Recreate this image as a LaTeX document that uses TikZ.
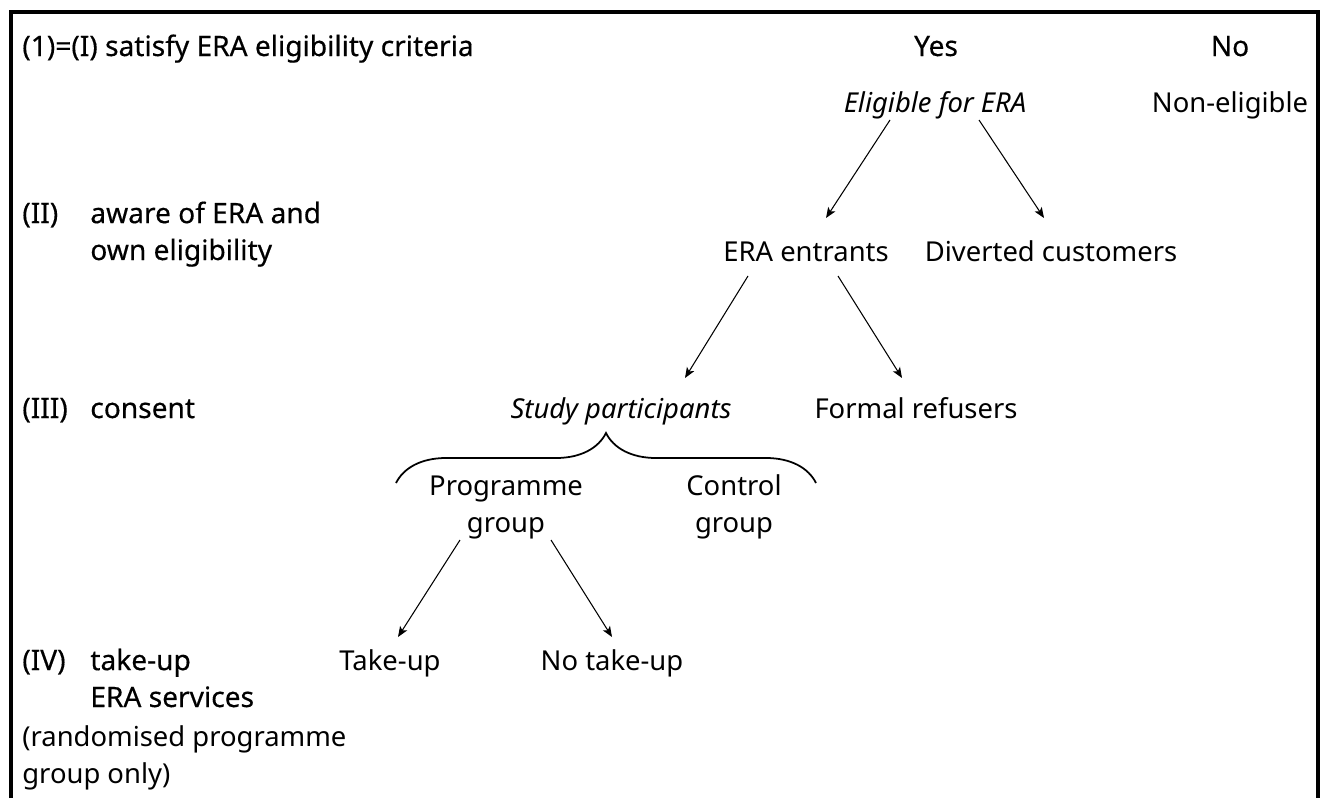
\documentclass[tikz,border=0pt]{standalone}
\usepackage{fontspec}
\setmainfont{Noto Sans}
\newfontfamily\lvlfont[FakeBold=0.4]{Noto Sans}
\usetikzlibrary{arrows.meta,decorations.pathreplacing}

\begin{document}
\begin{tikzpicture}[
    item/.style={
      inner sep=0pt,
      anchor=base,
      align=center,
      font=\fontsize{15.6}{21}\selectfont
    },
    lvl/.style={
      item,
      anchor=base west,
      align=left,
      font=\fontsize{16}{21}\selectfont\lvlfont
    },
    arr/.style={
      -{Stealth[length=6pt,width=4.8pt,inset=1.5pt]},
      line width=0.6pt
    }
  ]

  \useasboundingbox (0, 0) rectangle (26.42, -15.96);
  \draw[line width=2pt] (0.22, -15.96) -- (0.22, -0.245) -- (26.36, -0.245) -- (26.36, -15.96);

  % left column (last line of each node sits on the given baseline)
  \node[lvl] (l1) at (0.44, -1.12) {(1)=(I) satisfy ERA eligibility criteria};
  \node[lvl] (l2) at (0.44, -4.46) {(II)};
  \node[lvl] (l2t) at (1.8, -5.2) {aware of ERA and\\own eligibility};
  \node[lvl] (l3) at (0.44, -8.36) {(III)};
  \node[lvl] (l3t) at (1.8, -8.36) {consent};
  \node[lvl] (l4) at (0.44, -13.4) {(IV)};
  \node[lvl] (l4t) at (1.8, -14.14) {take-up\\ERA services};
  \node[item, anchor=base west, align=left] (note) at (0.44, -15.66) {(randomised programme\\group only)};

  \node[lvl, anchor=base] (yes) at (18.72, -1.12) {Yes};
  \node[lvl, anchor=base] (no) at (24.6, -1.12) {No};

  % tree
  \node[item] (elig) at (18.7, -2.24) {\itshape Eligible for ERA};
  \node[item] (nonelig) at (24.6, -2.24) {Non-eligible};

  \node[item] (entr) at (16.12, -5.22) {ERA entrants};
  \node[item] (divert) at (21.02, -5.22) {Diverted customers};

  \node[item] (study) at (12.42, -8.36) {\itshape Study participants};
  \node[item] (refus) at (18.32, -8.36) {Formal refusers};

  \node[item] (prog) at (10.12, -10.64) {Programme\\group};
  \node[item] (ctrl) at (14.68, -10.64) {Control\\group};

  \node[item] (take) at (7.8, -13.4) {Take-up};
  \node[item] (notake) at (12.24, -13.4) {No take-up};

  \coordinate (bl) at (7.92, -9.66);
  \coordinate (br) at (16.32, -9.66);
  \draw[line width=1pt, decorate, decoration={brace, amplitude=1cm}] (bl) -- (br);

  \draw[arr] ([xshift=-0.9cm, yshift=-0.16cm]elig.base) -- ([xshift=0.4cm, yshift=0.86cm]entr.base);
  \draw[arr] ([xshift=0.88cm, yshift=-0.16cm]elig.base) -- ([xshift=-0.14cm, yshift=0.86cm]divert.base);

  \draw[arr] ([xshift=-1.16cm, yshift=-0.3cm]entr.base) -- ([xshift=1.28cm, yshift=0.8cm]study.base);
  \draw[arr] ([xshift=0.64cm, yshift=-0.3cm]entr.base) -- ([xshift=-0.28cm, yshift=0.8cm]refus.base);

  \draw[arr] ([xshift=-0.92cm, yshift=-0.16cm]prog.base) -- ([xshift=0.16cm, yshift=0.66cm]take.base);
  \draw[arr] ([xshift=0.9cm, yshift=-0.16cm]prog.base) -- ([xshift=0cm, yshift=0.66cm]notake.base);

\end{tikzpicture}
\end{document}
